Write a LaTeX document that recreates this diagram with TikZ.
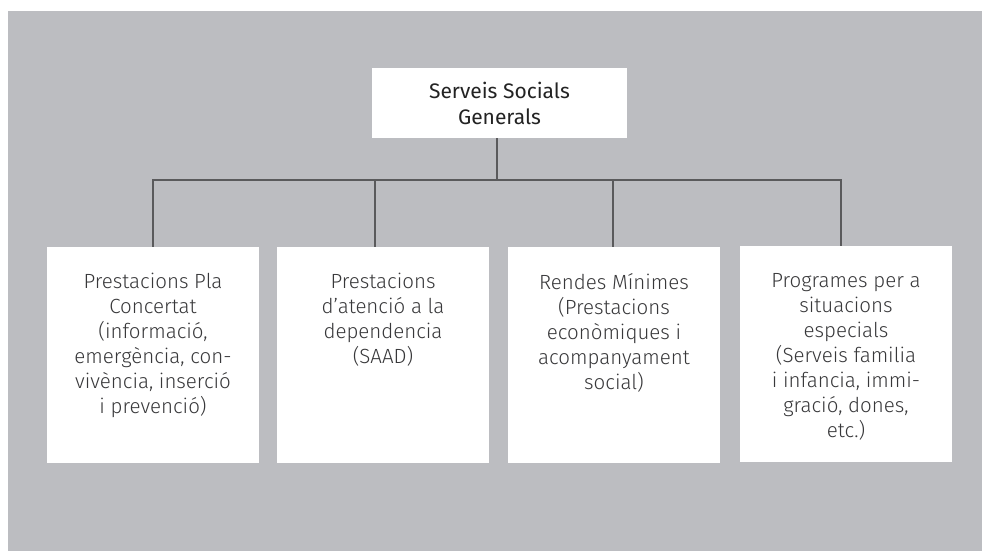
\documentclass[tikz,border=0pt]{standalone}
\usepackage{fontspec}
\setmainfont{Fira Sans}
\IfFontExistsTF{Fira Sans Light}{\newfontfamily\lightfont{Fira Sans Light}}{\newfontfamily\lightfont{Fira Sans}}
\definecolor{bggray}{HTML}{BCBDC1}
\definecolor{linegray}{HTML}{5A5A5C}
\definecolor{txtdark}{HTML}{232323}
\definecolor{txtlight}{HTML}{38383A}
\tikzset{
  topbox/.style={fill=white, draw=none, minimum width=255pt, minimum height=70pt, inner sep=0pt},
  subbox/.style={fill=white, draw=none, minimum width=212pt, minimum height=216pt, inner sep=0pt},
  boxtext/.style={anchor=north, align=center, inner sep=0pt, text=txtlight, font=\lightfont\fontsize{20.5}{25}\selectfont},
  toptext/.style={align=center, inner sep=0pt, text=txtdark, font=\fontsize{21}{26}\selectfont},
  conn/.style={draw=linegray, line width=2.8pt},
}
\begin{document}
\begin{tikzpicture}[x=1pt,y=-1pt]
\useasboundingbox (0,0) rectangle (982,551);
\fill[bggray] (8,11) rectangle (982,551);
% nodes
\node[topbox] (top) at (499.5,103) {};
\node[toptext] (toptxt) at (499.5,103) {Serveis Socials\\Generals};
\node[subbox] (b1) at (153,355) {};
\node[subbox] (b2) at (383,355) {};
\node[subbox] (b3) at (614,355) {};
\node[subbox] (b4) at (846,354) {};
\node[boxtext] (t1) at (153,273) {Prestacions Pla\\Concertat\\(informació,\\emergència, con-\\vivència, inserció\\i prevenció)};
\node[boxtext] (t2) at (383,273) {Prestacions\\d’atenció a la\\dependencia\\(SAAD)};
\node[boxtext] (t3) at (614,273) {Rendes Mínimes\\(Prestacions\\econòmiques i\\acompanyament\\social)};
\node[boxtext] (t4) at (846,273) {Programes per a\\situacions\\especials\\(Serveis familia\\i infancia, immi-\\gració, dones,\\etc.)};
% connectors
\coordinate (busL) at (153,180);
\coordinate (busTop) at (497,180);
\coordinate (bus2) at (375,180);
\coordinate (bus3) at (613,180);
\coordinate (busR) at (841,180);
\draw[conn] ([xshift=-2.5pt]top.south) -- (busTop);
\draw[conn, line cap=rect] (busL) -- (busR);
\draw[conn] (b1.north) -- (busL);
\draw[conn] ([xshift=-8pt]b2.north) -- (bus2);
\draw[conn] ([xshift=-1pt]b3.north) -- (bus3);
\draw[conn] ([xshift=-5pt]b4.north) -- (busR);
\end{tikzpicture}
\end{document}
